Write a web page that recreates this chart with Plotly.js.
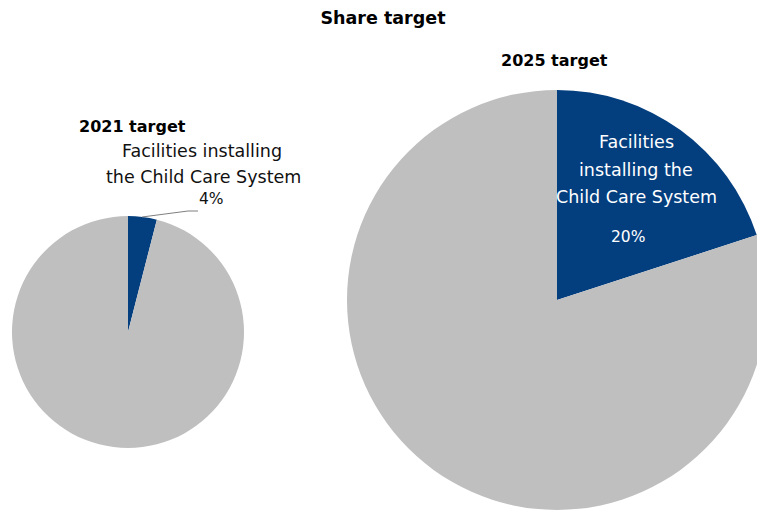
<!DOCTYPE html>
<html>
<head>
<meta charset="utf-8">
<script src="https://cdn.plot.ly/plotly-3.0.1.min.js"></script>
<style>
html, body { margin: 0; padding: 0; overflow: hidden; background: #fff; }
#chart { width: 777px; height: 511px; }
</style>
</head>
<body>
<div id="chart"></div>
<script>
// ---- data ----
const categories = ["Facilities installing the Child Care System", "Other"];
const target2021 = [4, 96];
const target2025 = [20, 80];
const pieTitles = ["2021 target", "2025 target"];
const chartTitle = "Share target";
const labelLinesSmall = ["Facilities installing", "the Child Care System"];
const labelLinesBig = ["Facilities", "installing the", "Child Care System"];
const colors = ["#033e7f", "#bfbfbf"];

// ---- layout helpers (pixel -> paper) ----
const W = 777, H = 511;
const px = x => x / W;
const py = y => 1 - y / H;
const FONT = "DejaVu Sans, Verdana, sans-serif";

const traces = [
  {
    type: "pie",
    labels: categories,
    values: target2021,
    sort: false,
    direction: "clockwise",
    rotation: 0,
    marker: { colors: colors, line: { width: 0 } },
    textinfo: "none",
    hoverinfo: "label+percent",
    showlegend: false,
    domain: { x: [px(12), px(244)], y: [py(448), py(216)] }
  },
  {
    type: "pie",
    labels: categories,
    values: target2025,
    sort: false,
    direction: "clockwise",
    rotation: 0,
    marker: { colors: colors, line: { width: 0 } },
    textinfo: "none",
    hoverinfo: "label+percent",
    showlegend: false,
    domain: { x: [px(347), px(767)], y: [py(510), py(90)] }
  }
];

const share2021 = Math.round(100 * target2021[0] / (target2021[0] + target2021[1]));
const share2025 = Math.round(100 * target2025[0] / (target2025[0] + target2025[1]));

const lbl = (text, x, y, size, color) => ({
  text: text, x: px(x), y: py(y), xanchor: "center", yanchor: "middle",
  font: { size: size, color: color, family: FONT }
});

const annotations = [
  { text: "<b>" + pieTitles[0] + "</b>", x: px(77), y: py(126), xanchor: "left", yanchor: "middle",
    font: { size: 16, color: "#000", family: FONT } },
  { text: "<b>" + pieTitles[1] + "</b>", x: px(499), y: py(60), xanchor: "left", yanchor: "middle",
    font: { size: 16, color: "#000", family: FONT } },
  lbl(labelLinesSmall[0], 201.5, 151, 17.5, "#111"),
  lbl(labelLinesSmall[1], 204, 177, 17.5, "#111"),
  lbl(share2021 + "%", 211, 199, 15.5, "#111"),
  lbl(labelLinesBig[0], 636, 142, 17.5, "#fff"),
  lbl(labelLinesBig[1], 636, 170, 17.5, "#fff"),
  lbl(labelLinesBig[2], 636, 197, 17.5, "#fff"),
  lbl(share2025 + "%", 628, 237, 15.5, "#fff")
];
annotations.forEach(a => { a.xref = "paper"; a.yref = "paper"; a.showarrow = false; });

const layout = {
  width: W,
  height: H,
  margin: { l: 0, r: 0, t: 0, b: 0 },
  paper_bgcolor: "#fff",
  title: {
    text: "<b>" + chartTitle + "</b>",
    x: px(383), y: py(18), xanchor: "center", yanchor: "middle",
    xref: "paper", yref: "paper",
    font: { size: 17.5, color: "#000", family: FONT }
  },
  annotations: annotations,
  shapes: [
    { type: "path", xref: "paper", yref: "paper",
      path: "M " + px(142) + " " + py(217) + " L " + px(188) + " " + py(211) + " L " + px(198) + " " + py(211),
      line: { color: "#7f7f7f", width: 1 } }
  ]
};

Plotly.newPlot("chart", traces, layout, { displayModeBar: false, staticPlot: true });
</script>
</body>
</html>
